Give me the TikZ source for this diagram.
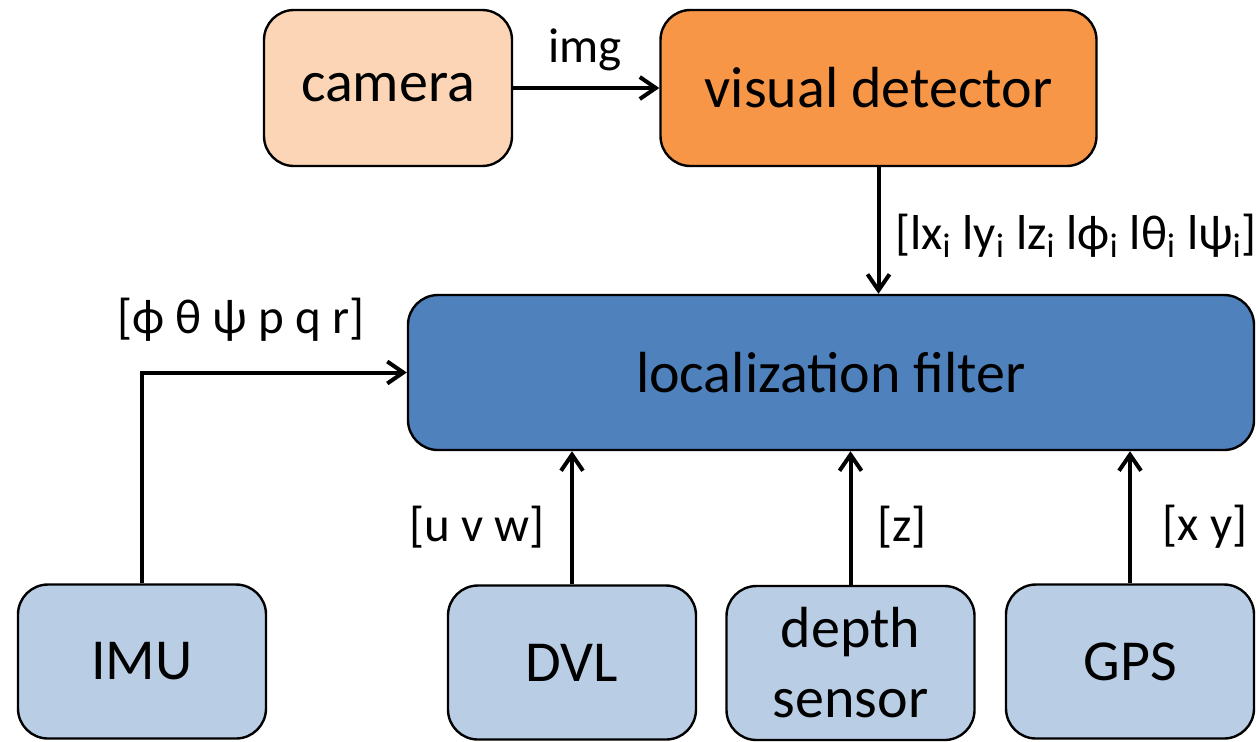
\documentclass[tikz,border=0pt]{standalone}
\usepackage{fontspec}
\setmainfont{Carlito}
\usetikzlibrary{positioning,arrows.meta}
\definecolor{camfill}{HTML}{FBD5B5}
\definecolor{detfill}{HTML}{F79646}
\definecolor{filtfill}{HTML}{4F81BD}
\definecolor{sensfill}{HTML}{B9CDE5}
\begin{document}
\begin{tikzpicture}[x=0.5pt,y=-0.5pt,
  every node/.style={font=\fontsize{29}{35}\selectfont},
  blockbox/.style={draw,line width=1.2pt,rounded corners=15pt,minimum width=124pt,
    minimum height=77pt,align=center,inner sep=0pt},
  sig/.style={font=\fontsize{24.5}{29}\selectfont,inner sep=0pt},
  flow/.style={line width=2pt,-{Straight Barb[length=8pt,width=11pt,line width=2pt]}}]
\useasboundingbox (0,0) rectangle (1256,741);
% blocks
\node[blockbox,fill=camfill,minimum height=78pt] (camera) at (388,88) {camera};
\node[blockbox,fill=detfill,minimum width=218pt,minimum height=78pt] (detector) at (878.5,88) {visual detector};
\node[blockbox,fill=filtfill,minimum width=423pt,minimum height=77.5pt] (filter) at (831,372.5) {localization filter};
\node[blockbox,fill=sensfill] (imu) at (142,661.5) {IMU};
\node[blockbox,fill=sensfill] (dvl) at (572,662.5) {DVL};
\node[blockbox,fill=sensfill] (depth) at (850.5,663) {depth\\sensor};
\node[blockbox,fill=sensfill] (gps) at (1130,661.5) {GPS};
% signals
\draw[flow] (camera) -- (detector);
\draw[flow] (detector) -- (detector |- filter.north);
\draw[flow] (imu) |- (filter);
\draw[flow] (dvl) -- (dvl |- filter.south);
\draw[flow] (depth) -- (depth |- filter.south);
\draw[flow] (gps) -- (gps |- filter.south);
% labels
\node[sig] (limg) at (585,50) {img};
\node[sig] (lpose) at (1076,236) {[lx\textsubscript{i} ly\textsubscript{i} lz\textsubscript{i} lϕ\textsubscript{i} lθ\textsubscript{i} lψ\textsubscript{i}]};
\node[sig] (limu) at (241,320) {[ϕ θ ψ p q r]};
\node[sig] (ldvl) at (477,527) {[u v w]};
\node[sig] (ldepth) at (902,527) {[z]};
\node[sig] (lgps) at (1205,527) {[x y]};
\end{tikzpicture}
\end{document}
